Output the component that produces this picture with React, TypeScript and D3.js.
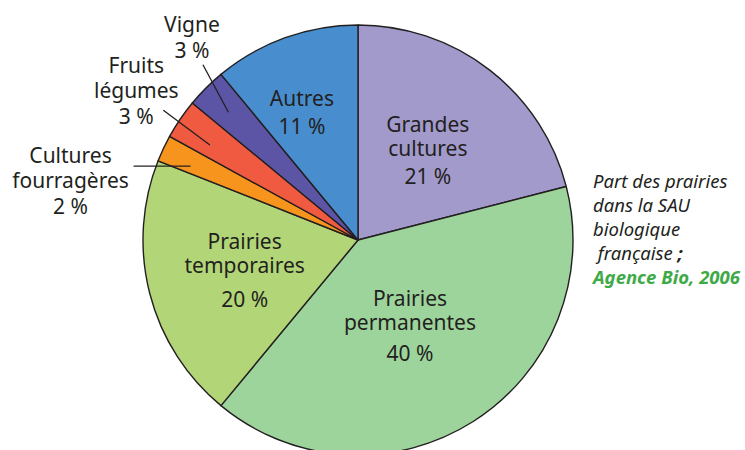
import * as d3 from "d3";

const categories = [
  "Grandes cultures",
  "Prairies permanentes",
  "Prairies temporaires",
  "Cultures fourragères",
  "Fruits légumes",
  "Vigne",
  "Autres",
];
const shares = [21, 40, 20, 2, 3, 3, 11];
const labelLines = [
  ["Grandes", "cultures"],
  ["Prairies", "permanentes"],
  ["Prairies", "temporaires"],
  ["Cultures", "fourragères"],
  ["Fruits", "légumes"],
  ["Vigne"],
  ["Autres"],
];
const colors = ["#a29acb", "#9dd49c", "#b2d677", "#f7941d", "#ef5a40", "#5c55a5", "#488ecf"];
const noteLines = ["Part des prairies", "dans la SAU", "biologique", " française"];
const source = "Agence Bio, 2006";

const width = 745;
const height = 450;
const cx = 358;
const cy = 240;
const radius = 215;
const ink = "#231f20";
const font = "'Noto Sans', sans-serif";

// label placement tweaks, by slice index
const inside = {
  0: { r: 114, da: 0, dy: -18, gap: 28 },
  1: { r: 97, da: 0, dy: -16, gap: 31 },
  2: { r: 117, da: 0, dy: -20, gap: 34 },
  6: { r: 139, da: -4, dy: -7, gap: 28 },
};
const outside = {
  3: { inA: -1.4, inR: 183, outA: 0, outR: 0, horiz: 57, tdx: -63, tdy: -3 },
  4: { inA: -1.5, inR: 176, outA: -0.5, outR: 234, horiz: 0, tdx: -27, tdy: -37 },
  5: { inA: -0.4, inR: 182, outA: 3.5, outR: 234, horiz: 0, tdx: -11, tdy: -33 },
};

const rad = (deg: number) => (deg * Math.PI) / 180;
const polar = (a: number, r: number): [number, number] => [cx + r * Math.sin(a), cy - r * Math.cos(a)];

export default function App() {
  const pie = d3.pie<number>().sort(null).value((d) => d);
  const arcs = pie(shares);
  const arc = d3.arc<d3.PieArcDatum<number>>().innerRadius(0).outerRadius(radius);

  return (
    <svg
      width={width}
      height={height}
      viewBox={`0 0 ${width} ${height}`}
      style={{ position: "absolute", left: 0, top: 0, background: "#fff" }}
      fontFamily={font}
    >
      <g transform={`translate(${cx},${cy})`}>
        {arcs.map((d, i) => (
          <path key={categories[i]} d={arc(d) || ""} fill={colors[i]} stroke={ink} strokeWidth={1.4} strokeLinejoin="round" />
        ))}
      </g>

      {arcs.map((d, i) => {
        const mid = (d.startAngle + d.endAngle) / 2;
        const pct = `${shares[i]} %`;
        const cfg = (inside as any)[i];
        if (cfg) {
          const [x, y] = polar(mid + rad(cfg.da), cfg.r);
          const lines = labelLines[i];
          const y0 = y + cfg.dy;
          return (
            <text key={i} textAnchor="middle" fontSize={21} fill={ink}>
              {lines.map((t, k) => (
                <tspan key={k} x={x} y={y0 + k * 24}>{t}</tspan>
              ))}
              <tspan x={x} y={y0 + (lines.length - 1) * 24 + cfg.gap}>{pct}</tspan>
            </text>
          );
        }
        const o = (outside as any)[i];
        const [x1, y1] = polar(mid + rad(o.inA), o.inR);
        const [x2, y2] = o.horiz ? [x1 - o.horiz, y1] : polar(mid + rad(o.outA), o.outR);
        const lines = labelLines[i];
        const tx = x2 + o.tdx;
        const ty = y2 + o.tdy;
        return (
          <g key={i}>
            <line x1={x1} y1={y1} x2={x2} y2={y2} stroke={ink} strokeWidth={1.3} />
            <text textAnchor="middle" fontSize={21} fill={ink}>
              {lines.map((t, k) => (
                <tspan key={k} x={tx} y={ty + k * 25}>{t}</tspan>
              ))}
              <tspan x={tx} y={ty + lines.length * 25 + 1}>{pct}</tspan>
            </text>
          </g>
        );
      })}

      <text fontSize={18.5} fontStyle="italic" fill={ink} xmlSpace="preserve">
        {noteLines.map((t, k) => (
          <tspan key={k} x={593} y={188 + k * 24}>
            {t}
            {k === noteLines.length - 1 ? <tspan fontWeight="bold"> ;</tspan> : null}
          </tspan>
        ))}
        <tspan x={593} y={188 + noteLines.length * 24} fill="#3daa47" fontWeight="bold">{source}</tspan>
      </text>
    </svg>
  );
}
